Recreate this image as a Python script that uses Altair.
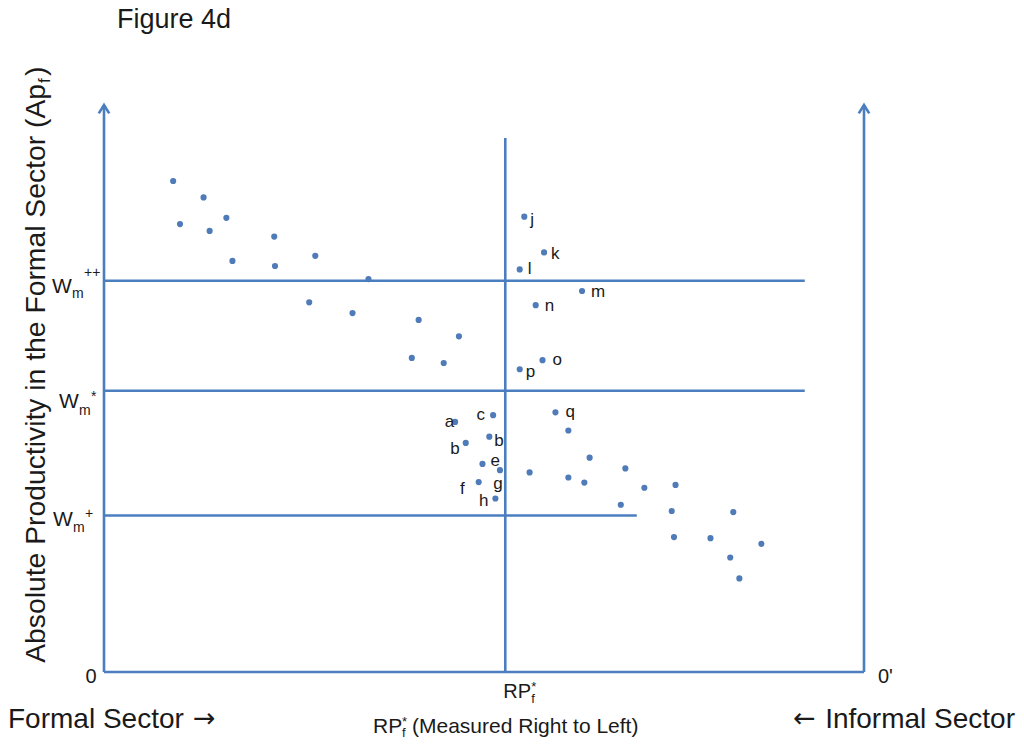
import altair as alt
import pandas as pd

# Diagram units: x runs 0 (origin "0") to 100 (origin "0'"); y runs 0 (bottom axis) to 100 (arrow tips)
cloud_x = [9.1, 13.1, 10.0, 13.9, 16.1, 22.4, 16.9, 22.5, 27.8, 34.8, 27.0, 32.7, 41.4, 46.7, 40.5, 44.7,
           61.1, 63.9, 56.0, 61.1, 63.2, 68.6, 71.1, 75.2, 68.0, 74.7, 82.8, 75.0, 79.8, 86.5, 82.4, 83.6]
cloud_y = [86.6, 83.7, 79.0, 77.8, 80.1, 76.8, 72.5, 71.6, 73.4, 69.3, 65.2, 63.3, 62.1, 59.2, 55.4, 54.5,
           42.6, 37.8, 35.2, 34.3, 33.4, 35.9, 32.5, 33.0, 29.5, 28.4, 28.2, 23.8, 23.6, 22.6, 20.2, 16.5]

point_names = ["j", "k", "l", "m", "n", "o", "p", "a", "c", "b", "b", "e", "g", "f", "h", "q"]
point_x = [55.3, 57.9, 54.7, 62.9, 56.8, 57.7, 54.7, 46.2, 51.2, 50.7, 47.6, 49.8, 52.1, 49.3, 51.5, 59.4]
point_y = [80.3, 74.0, 71.0, 67.2, 64.7, 55.0, 53.4, 44.1, 45.3, 41.5, 40.4, 36.7, 35.6, 33.5, 30.6, 45.8]

# straight lines of the diagram (axes, RPf* line, wage levels)
seg_x1 = [0, 100, 0, 52.8, 0, 0, 0]
seg_x2 = [0, 100, 100, 52.8, 92.2, 92.2, 70.1]
seg_y1 = [0, 0, 0, 0, 69.0, 49.6, 27.6]
seg_y2 = [100, 100, 0, 94.2, 69.0, 49.6, 27.6]

arrow_x = [0, 100]
arrow_y = [100, 100]

wage_levels = [69.0, 49.6, 27.6]
wage_sups = ["++", "*", "+"]
rp_star = 52.8

FONT = "Liberation Sans"
TXT = "#1a1a1a"
BLUE = "#4a7ebf"
PT = "#4f7bb8"

xs = alt.Scale(domain=[-12.632, 120.0], nice=False, zero=False)
ys = alt.Scale(domain=[-11.464, 117.108], nice=False, zero=False)

layers = []

seg_df = pd.DataFrame({"x1": seg_x1, "x2": seg_x2, "y1": seg_y1, "y2": seg_y2})
layers.append(alt.Chart(seg_df).mark_rule(color=BLUE, strokeWidth=2.6, strokeCap="butt").encode(
    x=alt.X("x1:Q", scale=xs, axis=None), x2="x2:Q",
    y=alt.Y("y1:Q", scale=ys, axis=None), y2="y2:Q"))

arr_df = pd.DataFrame({"x": arrow_x, "y": arrow_y})
layers.append(alt.Chart(arr_df).mark_point(shape="M-1,1.6L0,0L1,1.6", filled=False, color=BLUE,
                                            strokeWidth=2.6, size=110, opacity=1).encode(
    x=alt.X("x:Q", scale=xs, axis=None), y=alt.Y("y:Q", scale=ys, axis=None)))

cloud_df = pd.DataFrame({"x": cloud_x, "y": cloud_y})
layers.append(alt.Chart(cloud_df).mark_circle(color=PT, size=38, opacity=1).encode(
    x=alt.X("x:Q", scale=xs, axis=None), y=alt.Y("y:Q", scale=ys, axis=None)))

pts_df = pd.DataFrame({"name": point_names, "x": point_x, "y": point_y})
layers.append(alt.Chart(pts_df).mark_circle(color=PT, size=38, opacity=1).encode(
    x=alt.X("x:Q", scale=xs, axis=None), y=alt.Y("y:Q", scale=ys, axis=None)))

# label placement (align, dx, dy) per labelled point
label_style = [("left", 6, 3), ("left", 7, 2), ("left", 8, 0), ("left", 9, 1), ("left", 9, 1),
               ("left", 10, 0), ("left", 6, 3), ("right", -1, 0), ("right", -8, 0), ("left", 5, 4),
               ("right", -6, 6), ("left", 8, -3), ("center", -2, 14), ("right", -14, 7),
               ("right", -7, 3), ("left", 10, 0)]
for i, (al, dx, dy) in enumerate(label_style):
    d = pts_df.iloc[[i]]
    layers.append(alt.Chart(d).mark_text(font=FONT, fontSize=17, color=TXT, align=al, baseline="middle",
                                         dx=dx, dy=dy).encode(
        x=alt.X("x:Q", scale=xs, axis=None), y=alt.Y("y:Q", scale=ys, axis=None), text="name:N"))


def ptext(txt, px, py, size, align="left", baseline="alphabetic", angle=None, font=FONT):
    kw = dict(font=font, fontSize=size, align=align, baseline=baseline, color=TXT)
    if angle is not None:
        kw["angle"] = angle
    return alt.Chart(pd.DataFrame({"t": [txt]})).mark_text(**kw).encode(
        x=alt.value(px - 8), y=alt.value(py - 8), text="t:N")


# wage level labels W_m with superscripts
wm_pos = [(52, 12, 17, -4), (59, 17, 24, 10), (53, 10, 16.5, 2.5)]
for lev, sup, (wl, wdy, mdy, sdy) in zip(wage_levels, wage_sups, wm_pos):
    d = pd.DataFrame({"y": [lev], "w": ["W"], "m": ["m"], "s": [sup]})
    base = alt.Chart(d)
    layers.append(base.mark_text(font=FONT, fontSize=21, color=TXT, align="left", baseline="alphabetic",
                                 dy=wdy).encode(
        x=alt.value(wl - 8), y=alt.Y("y:Q", scale=ys, axis=None), text="w:N"))
    layers.append(base.mark_text(font=FONT, fontSize=14, color=TXT, align="left", baseline="alphabetic",
                                 dy=mdy).encode(
        x=alt.value(wl + 20 - 8), y=alt.Y("y:Q", scale=ys, axis=None), text="m:N"))
    layers.append(base.mark_text(font=FONT, fontSize=14, color=TXT, align="left", baseline="alphabetic",
                                 dy=sdy).encode(
        x=alt.value(wl + 32 - 8), y=alt.Y("y:Q", scale=ys, axis=None), text="s:N"))

# bottom tick labels
tick_df = pd.DataFrame({"x": [0.0], "t": ["0"]})
layers.append(alt.Chart(tick_df).mark_text(font=FONT, fontSize=20, color=TXT, align="center",
                                           baseline="alphabetic", dx=-13).encode(
    x=alt.X("x:Q", scale=xs, axis=None), y=alt.value(683 - 8), text="t:N"))
tick2_df = pd.DataFrame({"x": [100.0], "t": ["0'"]})
layers.append(alt.Chart(tick2_df).mark_text(font=FONT, fontSize=20, color=TXT, align="left",
                                            baseline="alphabetic", dx=14).encode(
    x=alt.X("x:Q", scale=xs, axis=None), y=alt.value(683 - 8), text="t:N"))
rp_df = pd.DataFrame({"x": [rp_star], "a": ["RP"], "b": ["f"], "c": ["*"]})
layers.append(alt.Chart(rp_df).mark_text(font=FONT, fontSize=20, color=TXT, align="left",
                                         baseline="alphabetic", dx=-2).encode(
    x=alt.X("x:Q", scale=xs, axis=None), y=alt.value(698 - 8), text="a:N"))
layers.append(alt.Chart(rp_df).mark_text(font=FONT, fontSize=13, color=TXT, align="left",
                                         baseline="alphabetic", dx=26).encode(
    x=alt.X("x:Q", scale=xs, axis=None), y=alt.value(703 - 8), text="b:N"))
layers.append(alt.Chart(rp_df).mark_text(font=FONT, fontSize=13, color=TXT, align="left",
                                         baseline="alphabetic", dx=26).encode(
    x=alt.X("x:Q", scale=xs, axis=None), y=alt.value(691 - 8), text="c:N"))

# titles
layers.append(ptext("Figure 4d", 117, 28, 27))
layers.append(ptext("Absolute Productivity in the Formal Sector (Ap", 45, 84, 28.3, align="right", angle=270))
layers.append(ptext("f", 50, 83, 17, align="left", angle=270))
layers.append(ptext(")", 45, 76, 28.3, align="left", angle=270))
layers.append(ptext("Formal Sector", 8, 728, 28))
layers.append(ptext("\u2192", 193, 727, 27, font="DejaVu Sans"))
layers.append(ptext("Informal Sector", 1015, 728, 28, align="right"))
layers.append(ptext("\u2190", 793, 727, 27, font="DejaVu Sans"))
layers.append(ptext("RP", 373, 733, 21))
layers.append(ptext("f", 402, 737, 13))
layers.append(ptext("*", 402, 726, 13))
layers.append(ptext("(Measured Right to Left)", 412, 733, 21))

chart = alt.layer(*layers).properties(
    width=1008, height=729, autosize=alt.AutoSizeParams(type="none"), padding=0,
    background="white"
).configure_view(stroke=None)

chart.save("out.html", embed_options={"renderer": "svg", "actions": False})
